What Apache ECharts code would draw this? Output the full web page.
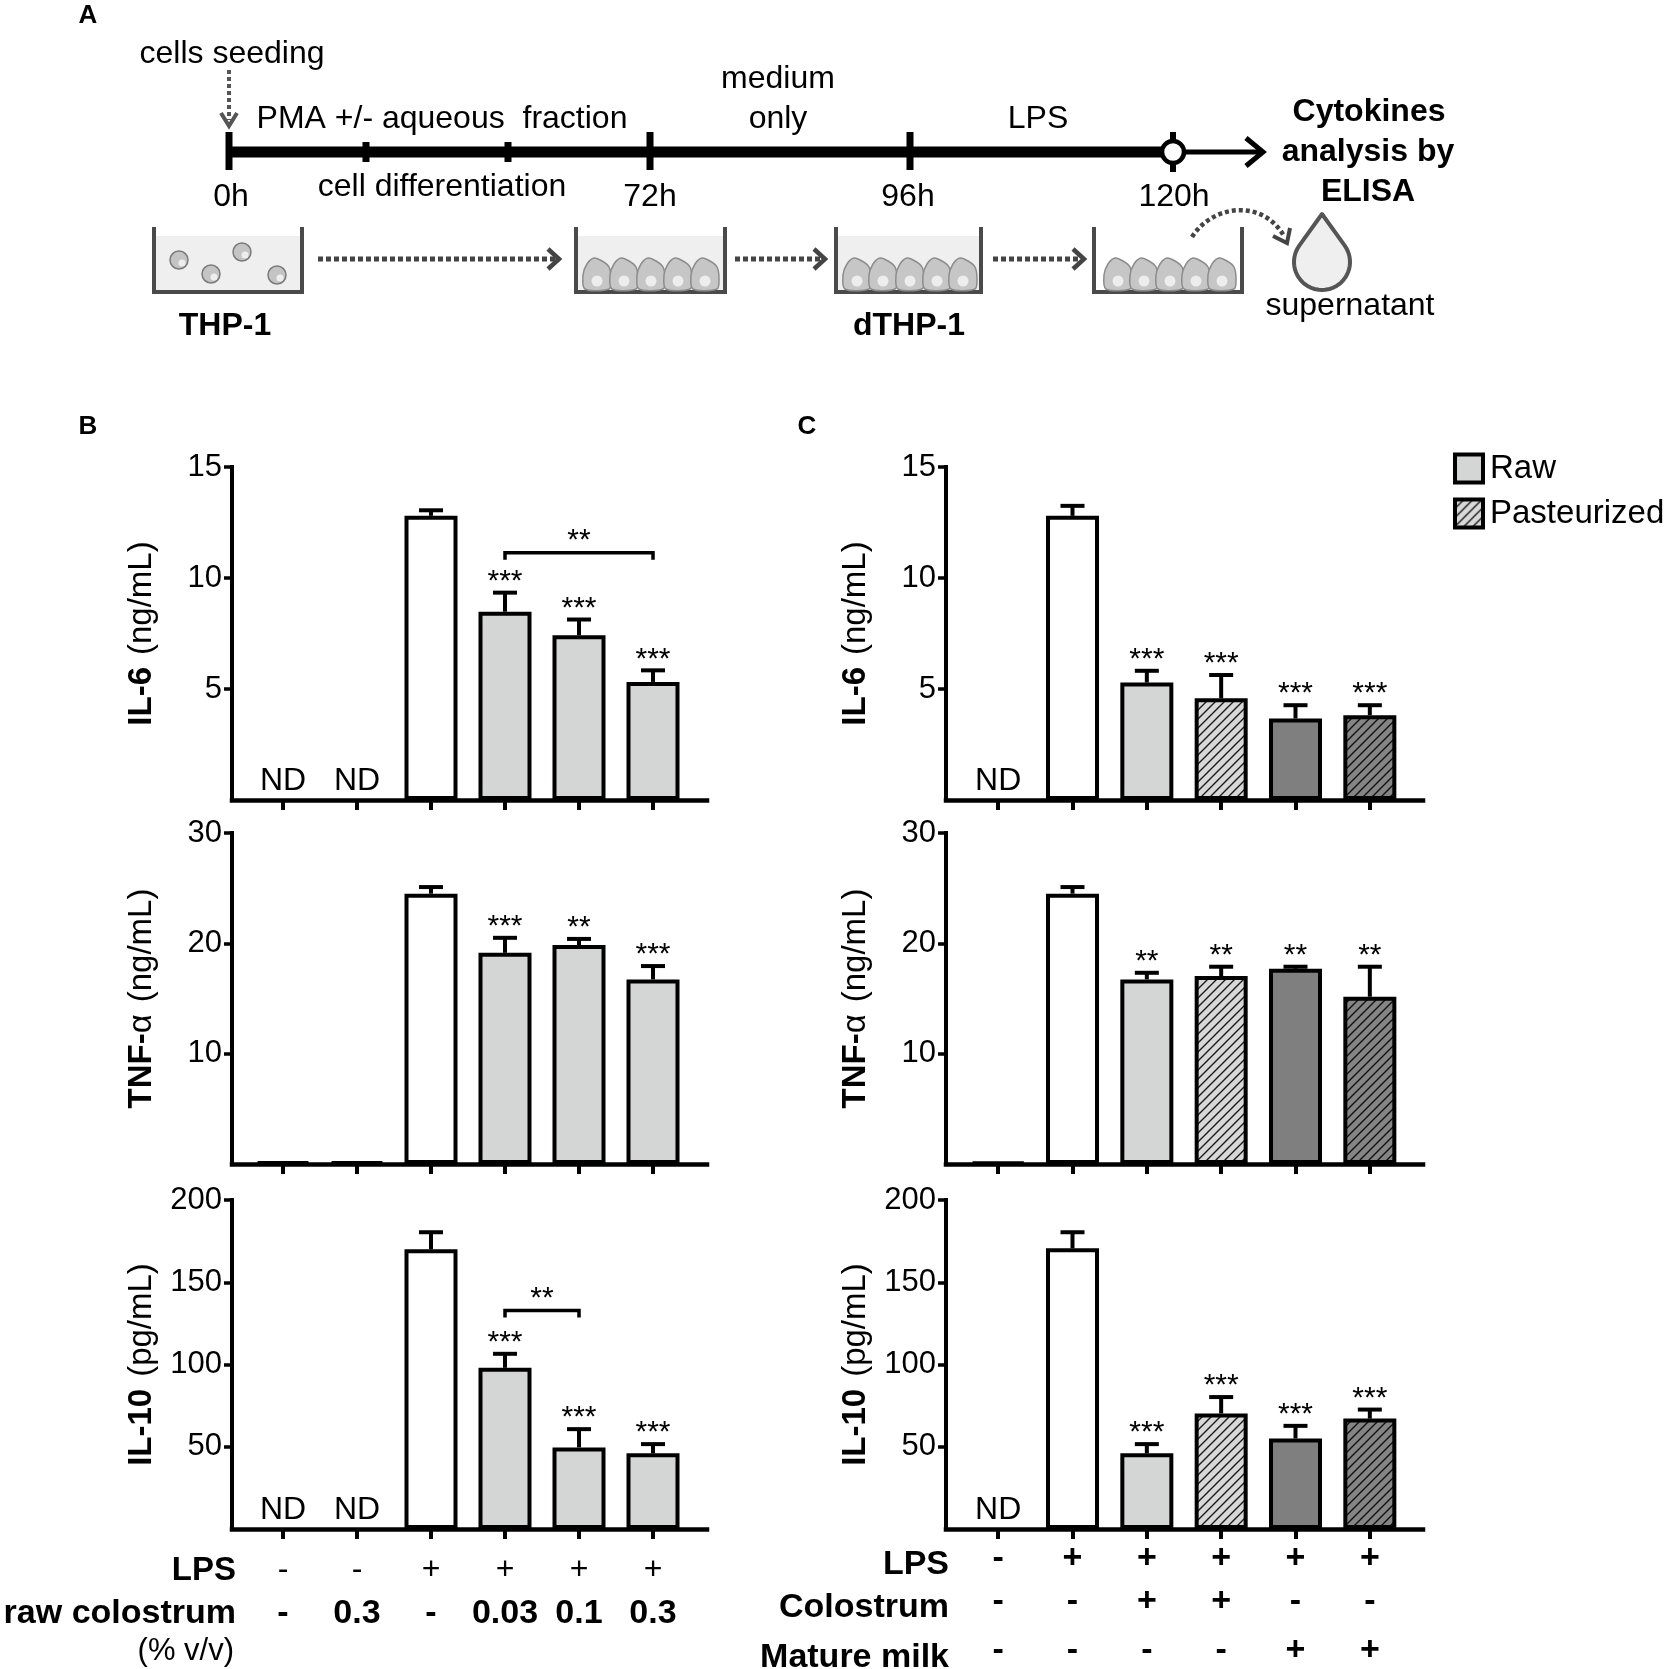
<!DOCTYPE html>
<html>
<head>
<meta charset="utf-8">
<script src="https://cdn.jsdelivr.net/npm/echarts@6/dist/echarts.min.js"></script>
<style>
html, body { margin: 0; padding: 0; background: #fff; }
#chart { width: 1667px; height: 1669px; }
</style>
</head>
<body>
<div id="chart"></div>
<script>
const FONT = '"Liberation Sans", Arial, Helvetica, sans-serif';

// rows of the treatment table under the bottom panels
const lpsB = ['-', '-', '+', '+', '+', '+'];
const colostrumB = ['-', '0.3', '-', '0.03', '0.1', '0.3'];
const lpsC = ['-', '+', '+', '+', '+', '+'];
const colostrumC = ['-', '-', '+', '+', '-', '-'];
const matureC = ['-', '-', '-', '-', '+', '+'];

// what fill each bar gets
const kindB = ['none', 'none', 'lps', 'raw', 'raw', 'raw'];
const kindC = ['none', 'lps', 'raw', 'past', 'rawMature', 'pastMature'];

// means (null = ND) and top of error bar
const il6B = [null, null, 12.8, 8.48, 7.42, 5.32];
const il6BErr = [null, null, 13.05, 9.34, 8.13, 5.84];
const il6BStars = ['', '', '', '***', '***', '***'];
const tnfB = [0.2, 0.2, 24.5, 19.14, 19.84, 16.73];
const tnfBErr = [0.2, 0.2, 25.1, 20.5, 20.4, 17.94];
const tnfBStars = ['', '', '', '***', '**', '***'];
const il10B = [null, null, 170, 98, 49.6, 46];
const il10BErr = [null, null, 180.4, 106.5, 60.7, 51.6];
const il10BStars = ['', '', '', '***', '***', '***'];

const il6C = [null, 12.8, 5.29, 4.58, 3.67, 3.82];
const il6CErr = [null, 13.25, 5.82, 5.63, 4.27, 4.27];
const il6CStars = ['', '', '***', '***', '***', '***'];
const tnfC = [0.15, 24.5, 16.73, 17.03, 17.7, 15.16];
const tnfCErr = [0.15, 25.1, 17.33, 17.88, 17.88, 17.88];
const tnfCStars = ['', '', '**', '**', '**', '**'];
const il10C = [null, 170.6, 46, 70.2, 55, 67.1];
const il10CErr = [null, 180.4, 51.6, 80.2, 62.7, 72.6];
const il10CStars = ['', '', '***', '***', '***', '***'];

// comparison brackets: from bar, to bar, height, label
const bracketIl6B = [3, 5, 11.14, '**'];
const bracketIl10B = [3, 4, 132.9, '**'];

function hatch(bg, line) {
    const s = 9;
    const c = document.createElement('canvas');
    c.width = s;
    c.height = s;
    const ctx = c.getContext('2d');
    ctx.fillStyle = bg;
    ctx.fillRect(0, 0, s, s);
    ctx.strokeStyle = line;
    ctx.lineWidth = 1.4;
    ctx.beginPath();
    ctx.moveTo(0, s); ctx.lineTo(s, 0);
    ctx.moveTo(-s / 2, s / 2); ctx.lineTo(s / 2, -s / 2);
    ctx.moveTo(s / 2, s * 1.5); ctx.lineTo(s * 1.5, s / 2);
    ctx.stroke();
    return { image: c, repeat: 'repeat' };
}

const fills = {
    none: '#ffffff',
    lps: '#ffffff',
    raw: '#d4d6d5',
    rawMature: '#7f7f7f',
    past: hatch('#d8d8d8', '#1a1a1a'),
    pastMature: hatch('#858585', '#111111')
};
const groups = {
    Control: ['none', 'lps'],
    Raw: ['raw', 'rawMature'],
    Pasteurized: ['past', 'pastMature']
};

const rows = [
    { top: 467, height: 333 },
    { top: 833, height: 331 },
    { top: 1200, height: 329 }
];
const cols = {
    B: { frameLeft: 232, frameWidth: 475, barLeft: 246, barWidth: 444, labelMargin: 19 },
    C: { frameLeft: 946, frameWidth: 477, barLeft: 961, barWidth: 446, labelMargin: 8 }
};

const panels = [
    { col: 'B', row: 0, vals: il6B, errs: il6BErr, stars: il6BStars, kinds: kindB, max: 15, step: 5, name: '{b|IL-6}{r|(ng/mL)}', bracket: bracketIl6B },
    { col: 'B', row: 1, vals: tnfB, errs: tnfBErr, stars: tnfBStars, kinds: kindB, max: 30, step: 10, name: '{b|TNF-}{a|α}{r|(ng/mL)}' },
    { col: 'B', row: 2, vals: il10B, errs: il10BErr, stars: il10BStars, kinds: kindB, max: 200, step: 50, name: '{b|IL-10}{r|(pg/mL)}', bracket: bracketIl10B, table: 'B' },
    { col: 'C', row: 0, vals: il6C, errs: il6CErr, stars: il6CStars, kinds: kindC, max: 15, step: 5, name: '{b|IL-6}{r|(ng/mL)}' },
    { col: 'C', row: 1, vals: tnfC, errs: tnfCErr, stars: tnfCStars, kinds: kindC, max: 30, step: 10, name: '{b|TNF-}{a|α}{r|(ng/mL)}' },
    { col: 'C', row: 2, vals: il10C, errs: il10CErr, stars: il10CStars, kinds: kindC, max: 200, step: 50, name: '{b|IL-10}{r|(pg/mL)}', table: 'C' }
];

const tableRich = {
    p: { fontSize: 32, fontFamily: FONT, color: '#000', lineHeight: 44 },
    q: { fontSize: 34, fontWeight: 'bold', fontFamily: FONT, color: '#000', lineHeight: 44 },
    c: { fontSize: 34, fontWeight: 'bold', fontFamily: FONT, color: '#000', lineHeight: 43 },
    d: { fontSize: 34, fontWeight: 'bold', fontFamily: FONT, color: '#000', lineHeight: 56 }
};

function tableLabel(table) {
    return function (value, i) {
        if (table === 'B') {
            return '{p|' + lpsB[i] + '}\n{q|' + colostrumB[i] + '}';
        }
        return '{c|' + lpsC[i] + '}\n{c|' + colostrumC[i] + '}\n{d|' + matureC[i] + '}';
    };
}

const grid = [], xAxis = [], yAxis = [], series = [];

panels.forEach(function (p, k) {
    const c = cols[p.col];
    const r = rows[p.row];
    const fg = 2 * k, bg = 2 * k + 1;

    grid.push({ left: c.frameLeft, top: r.top, width: c.frameWidth, height: r.height, outerBoundsMode: 'none', containLabel: false });
    grid.push({ left: c.barLeft, top: r.top, width: c.barWidth, height: r.height, outerBoundsMode: 'none', containLabel: false });

    // frame: x axis line and labelled y axis
    xAxis.push({
        type: 'value', gridIndex: fg, min: 0, max: 1,
        axisLine: { show: true, lineStyle: { color: '#000', width: 4.5, cap: 'square' } },
        axisTick: { show: false }, axisLabel: { show: false }, splitLine: { show: false }
    });
    yAxis.push({
        type: 'value', gridIndex: fg, min: 0, max: p.max, interval: p.step,
        axisLine: { show: true, lineStyle: { color: '#000', width: 4, cap: 'square' } },
        axisTick: { show: true, length: 8, lineStyle: { color: '#000', width: 3.5 } },
        axisLabel: { color: '#000', fontSize: 31, fontFamily: FONT, margin: 10, showMinLabel: false },
        splitLine: { show: false },
        name: p.name, nameLocation: 'middle', nameGap: 74,
        nameTextStyle: {
            color: '#000',
            rich: {
                b: { fontSize: 33, fontWeight: 'bold', fontFamily: FONT, color: '#000' },
                a: { fontSize: 33, fontFamily: FONT, color: '#000' },
                r: { fontSize: 33, fontFamily: FONT, color: '#000', padding: [0, 0, 0, 12] }
            }
        }
    });

    // bars
    xAxis.push({
        type: 'category', gridIndex: bg, data: p.vals.map(function (v, i) { return String(i); }),
        axisLine: { show: false },
        axisTick: { show: true, alignWithLabel: true, length: 10, lineStyle: { color: '#000', width: 4 } },
        axisLabel: p.table ? {
            show: true, interval: 0, margin: c.labelMargin, verticalAlign: 'top',
            formatter: tableLabel(p.table), rich: tableRich
        } : { show: false }
    });
    yAxis.push({ type: 'value', gridIndex: bg, min: 0, max: p.max, show: false });

    Object.keys(groups).forEach(function (g) {
        const members = groups[g];
        if (!p.kinds.some(function (kd) { return members.indexOf(kd) >= 0; })) return;
        series.push({
            type: 'bar', name: g, xAxisIndex: bg, yAxisIndex: bg,
            barWidth: 53, barGap: '-100%', z: 2, silent: true,
            itemStyle: { color: fills[members[0]], borderColor: '#000', borderWidth: 4 },
            data: p.vals.map(function (v, i) {
                if (v == null || members.indexOf(p.kinds[i]) < 0) return null;
                return { value: v, itemStyle: { color: fills[p.kinds[i]] } };
            })
        });
    });

    // error bars, significance stars and ND marks
    series.push({
        type: 'custom', xAxisIndex: bg, yAxisIndex: bg, z: 4, silent: true,
        data: p.vals.map(function (v, i) { return [i, v == null ? 0 : v, p.errs[i] == null ? 0 : p.errs[i]]; }),
        renderItem: function (params, api) {
            const i = params.dataIndex;
            const children = [];
            if (p.vals[i] == null) {
                const b = api.coord([i, 0]);
                children.push({
                    type: 'text', x: b[0], y: b[1] - 19,
                    style: { text: 'ND', fill: '#000', font: '32px ' + FONT, align: 'center', verticalAlign: 'middle' }
                });
                return { type: 'group', children: children };
            }
            const base = api.coord([i, api.value(1)]);
            const top = api.coord([i, api.value(2)]);
            if (api.value(2) > api.value(1)) {
                children.push({ type: 'line', shape: { x1: base[0], y1: base[1], x2: top[0], y2: top[1] }, style: { stroke: '#000', lineWidth: 4 } });
                children.push({ type: 'line', shape: { x1: top[0] - 12, y1: top[1], x2: top[0] + 12, y2: top[1] }, style: { stroke: '#000', lineWidth: 4 } });
            }
            if (p.stars[i]) {
                children.push({
                    type: 'text', x: top[0], y: top[1] - 11,
                    style: { text: p.stars[i], fill: '#000', font: '30px ' + FONT, align: 'center', verticalAlign: 'middle' }
                });
            }
            return { type: 'group', children: children };
        }
    });

    if (p.bracket) {
        const br = p.bracket;
        series.push({
            type: 'custom', xAxisIndex: bg, yAxisIndex: bg, z: 4, silent: true,
            data: [[br[0], br[2], br[1]]],
            renderItem: function (params, api) {
                const a = api.coord([api.value(0), api.value(1)]);
                const b = api.coord([api.value(2), api.value(1)]);
                return {
                    type: 'group', children: [
                        { type: 'polyline', shape: { points: [[a[0], a[1] + 7], [a[0], a[1]], [b[0], b[1]], [b[0], b[1] + 7]] }, style: { stroke: '#000', lineWidth: 3.5, fill: null } },
                        { type: 'text', x: (a[0] + b[0]) / 2, y: a[1] - 12, style: { text: br[3], fill: '#000', font: '30px ' + FONT, align: 'center', verticalAlign: 'middle' } }
                    ]
                };
            }
        });
    }
});

// ---- panel A diagram and loose labels ----
function txt(text, x, y, size, opts) {
    opts = opts || {};
    return {
        type: 'text', x: x, y: y, silent: true,
        style: {
            text: text, fill: opts.color || '#000',
            font: (opts.bold ? 'bold ' : '') + size + 'px ' + FONT,
            align: opts.align || 'center', verticalAlign: 'middle'
        }
    };
}
function seg(x1, y1, x2, y2, w, color, dash) {
    return { type: 'line', silent: true, shape: { x1: x1, y1: y1, x2: x2, y2: y2 }, style: { stroke: color || '#000', lineWidth: w, lineDash: dash || null } };
}
function chevron(pts, w, color) {
    return { type: 'polyline', silent: true, shape: { points: pts }, style: { stroke: color || '#000', lineWidth: w, fill: null } };
}
function well(x1, x2, filled) {
    const els = [];
    if (filled) {
        els.push({ type: 'rect', silent: true, shape: { x: x1 + 2, y: 236, width: x2 - x1 - 4, height: 55 }, style: { fill: '#efefef' } });
    }
    els.push({ type: 'polyline', silent: true, shape: { points: [[x1, 227], [x1, 292], [x2, 292], [x2, 227]] }, style: { stroke: '#4a4a4a', lineWidth: 4, fill: null } });
    return els;
}
function cell(cx, cy) {
    return [
        {
            type: 'polygon', silent: true,
            shape: { smooth: 0.3, points: [[cx - 12, cy + 14], [cx - 14, cy], [cx - 10, cy - 11], [cx - 3, cy - 17], [cx + 5, cy - 14], [cx + 12, cy - 8], [cx + 14, cy + 4], [cx + 12, cy + 14]] },
            style: { fill: '#c6c6c6', stroke: '#8c8c8c', lineWidth: 1.5 }
        },
        { type: 'circle', silent: true, shape: { cx: cx, cy: cy + 6, r: 5.5 }, style: { fill: '#ededed' } }
    ];
}
function ball(cx, cy) {
    return [
        { type: 'circle', silent: true, shape: { cx: cx, cy: cy, r: 9 }, style: { fill: '#c4c4c4', stroke: '#7a7a7a', lineWidth: 1.5 } },
        { type: 'circle', silent: true, shape: { cx: cx + 3, cy: cy + 3, r: 3.5 }, style: { fill: '#eeeeee' } }
    ];
}
// teardrop outline: tip on top, round body below
function droplet(cx, cy, r, tipY) {
    const d = cy - tipY;
    const a = Math.PI / 2 - Math.asin(r / d);
    const pts = [[cx, tipY]];
    for (let k = 0; k <= 40; k++) {
        const phi = a + (2 * Math.PI - 2 * a) * k / 40;
        pts.push([cx + r * Math.sin(phi), cy - r * Math.cos(phi)]);
    }
    return { type: 'polygon', silent: true, shape: { points: pts }, style: { fill: '#efefef', stroke: '#555', lineWidth: 4, lineJoin: 'round' } };
}

let elements = [
    txt('A', 88, 16, 26, { bold: true }),
    txt('B', 88, 427, 26, { bold: true }),
    txt('C', 807, 427, 26, { bold: true }),

    txt('cells seeding', 232, 54, 32),
    seg(229, 70, 229, 120, 4, '#555', [4, 3]),
    chevron([[221, 113], [229, 126], [237, 113]], 4, '#555'),
    txt('PMA +/- aqueous  fraction', 442, 119, 32),
    txt('cell differentiation', 442, 187, 32),
    txt('0h', 231, 197, 32),
    txt('72h', 650, 197, 32),
    txt('medium', 778, 79, 32),
    txt('only', 778, 119, 32),
    txt('96h', 908, 197, 32),
    txt('LPS', 1038, 119, 32),
    txt('120h', 1174, 197, 32),
    txt('Cytokines', 1369, 112, 32, { bold: true }),
    txt('analysis by', 1368, 152, 32, { bold: true }),
    txt('ELISA', 1368, 192, 32, { bold: true }),
    txt('THP-1', 225, 326, 32, { bold: true }),
    txt('dTHP-1', 909, 326, 32, { bold: true }),
    txt('supernatant', 1350, 306, 32),

    // timeline
    seg(229, 152, 1162, 152, 11),
    seg(1162, 152, 1262, 152, 5),
    chevron([[1246, 138], [1263, 152], [1246, 166]], 5),
    seg(229, 132, 229, 170, 7),
    seg(366, 142, 366, 162, 7),
    seg(508, 142, 508, 162, 7),
    seg(650, 132, 650, 170, 7),
    seg(910, 132, 910, 170, 7),
    seg(1173, 132, 1173, 172, 6),
    { type: 'circle', silent: true, shape: { cx: 1173, cy: 152, r: 11 }, style: { fill: '#fff', stroke: '#000', lineWidth: 4.5 } },

    // dotted arrows between wells
    seg(318, 259, 556, 259, 5, '#444', [5, 3]),
    chevron([[548, 249], [559, 259], [548, 269]], 4.5, '#444'),
    seg(735, 259, 822, 259, 5, '#444', [5, 3]),
    chevron([[814, 249], [825, 259], [814, 269]], 4.5, '#444'),
    seg(993, 259, 1081, 259, 5, '#444', [5, 3]),
    chevron([[1073, 249], [1084, 259], [1073, 269]], 4.5, '#444'),
    {
        type: 'bezierCurve', silent: true,
        shape: { x1: 1192, y1: 237, cpx1: 1212, cpy1: 205, cpx2: 1262, cpy2: 198, x2: 1284, y2: 236 },
        style: { stroke: '#444', lineWidth: 4.5, lineDash: [4, 3], fill: null }
    },
    chevron([[1273, 236], [1287, 243], [1290, 228]], 4, '#444'),

    droplet(1322, 262, 28, 214)
];

elements = elements
    .concat(well(154, 302, true))
    .concat(ball(179, 260), ball(211, 274), ball(242, 252), ball(277, 275))
    .concat(well(576, 725, true))
    .concat(well(836, 981, true))
    .concat(well(1094, 1242, false));
[597, 624, 651, 678, 705].forEach(function (x) { elements = elements.concat(cell(x, 275)); });
[857, 883, 910, 937, 963].forEach(function (x) { elements = elements.concat(cell(x, 275)); });
[1118, 1144, 1170, 1196, 1222].forEach(function (x) { elements = elements.concat(cell(x, 275)); });

// row headers of the treatment tables
elements.push(
    txt('LPS', 236, 1571, 33, { bold: true, align: 'right' }),
    txt('raw colostrum', 236, 1614, 34, { bold: true, align: 'right' }),
    txt('(% v/v)', 234, 1651, 31, { align: 'right' }),
    txt('LPS', 949, 1565, 34, { bold: true, align: 'right' }),
    txt('Colostrum', 949, 1608, 34, { bold: true, align: 'right' }),
    txt('Mature milk', 949, 1658, 34, { bold: true, align: 'right' })
);

const chart = echarts.init(document.getElementById('chart'), null, { renderer: 'canvas' });
chart.setOption({
    animation: false,
    backgroundColor: '#ffffff',
    textStyle: { fontFamily: FONT },
    legend: {
        data: ['Raw', 'Pasteurized'],
        orient: 'vertical', left: 1453, top: 452, padding: 0,
        icon: 'rect', itemWidth: 28, itemHeight: 28, itemGap: 12,
        selectedMode: false,
        itemStyle: { borderColor: '#000', borderWidth: 4 },
        textStyle: { fontSize: 33, fontFamily: FONT, color: '#000', padding: [0, 0, 0, 2] }
    },
    grid: grid,
    xAxis: xAxis,
    yAxis: yAxis,
    series: series,
    graphic: { elements: elements }
});
</script>
</body>
</html>
